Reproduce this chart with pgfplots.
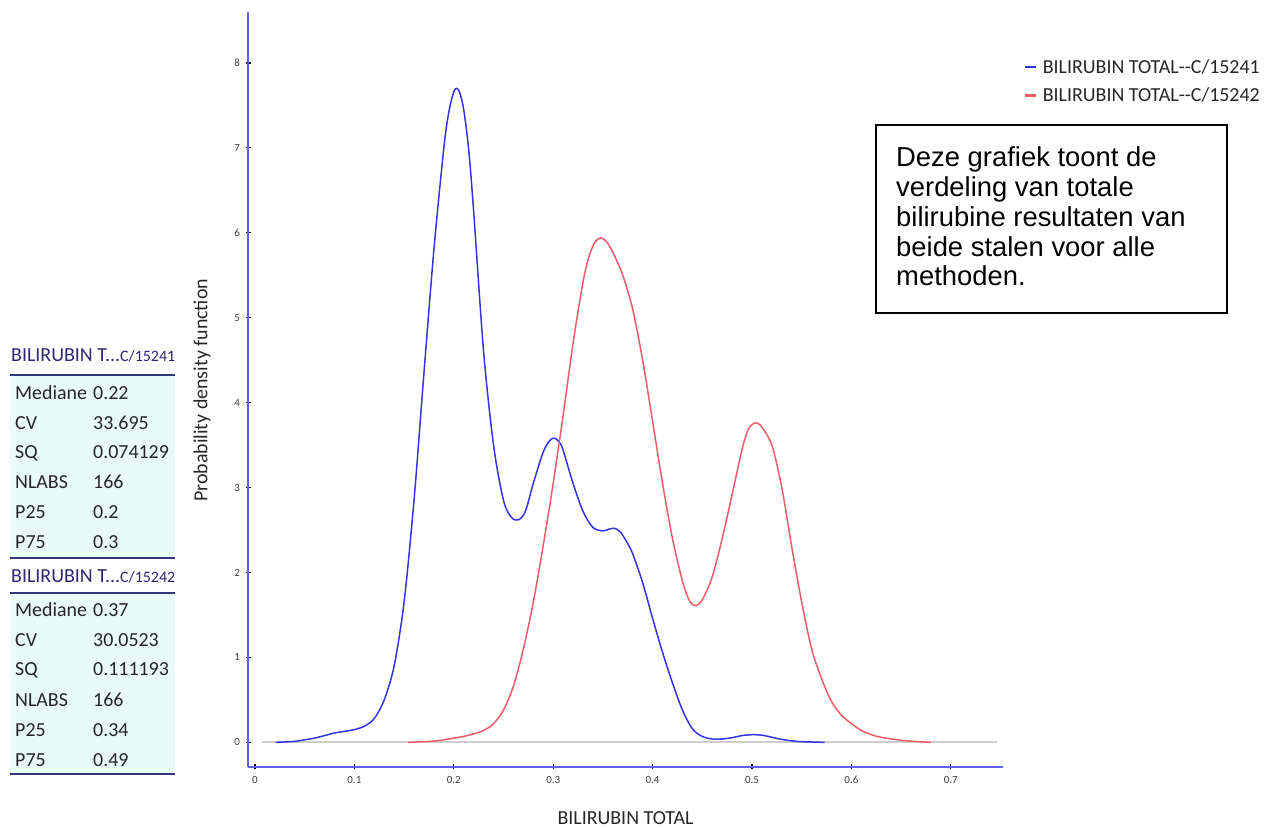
\documentclass[border=0pt]{standalone}
\usepackage{fontspec}
\setmainfont{Carlito}
\newfontfamily\arialfont{Liberation Sans}
\usepackage{pgfplots}
\pgfplotsset{compat=1.18}

\definecolor{curveBlue}{RGB}{52,52,228}
\definecolor{curveRed}{RGB}{238,92,104}
\definecolor{axisBlue}{RGB}{95,95,235}
\definecolor{baseGray}{RGB}{205,205,205}
\definecolor{tabFill}{RGB}{234,250,249}
\definecolor{tabHead}{RGB}{46,38,112}
\definecolor{tabRule}{RGB}{52,56,120}
\definecolor{tabText}{RGB}{38,38,38}
\definecolor{tickText}{RGB}{60,60,60}

% density estimate, sample C/15241
\pgfplotstableread{
x y
0.021 0
0.03 0.005
0.04 0.012
0.05 0.03
0.06 0.05
0.07 0.08
0.08 0.11
0.09 0.13
0.10 0.15
0.11 0.19
0.12 0.28
0.13 0.5
0.14 0.9
0.15 1.65
0.16 2.85
0.17 4.35
0.18 5.8
0.19 7.0
0.195 7.42
0.2 7.66
0.203 7.7
0.206 7.65
0.21 7.45
0.215 6.98
0.22 6.25
0.23 4.6
0.24 3.5
0.25 2.85
0.258 2.65
0.265 2.62
0.272 2.72
0.28 3.05
0.29 3.42
0.297 3.56
0.302 3.58
0.307 3.52
0.31 3.44
0.32 3.05
0.33 2.72
0.34 2.53
0.35 2.49
0.356 2.51
0.362 2.52
0.368 2.47
0.375 2.34
0.38 2.22
0.39 1.88
0.40 1.46
0.41 1.06
0.42 0.7
0.43 0.38
0.44 0.16
0.45 0.07
0.46 0.04
0.47 0.04
0.48 0.055
0.49 0.08
0.50 0.09
0.51 0.085
0.52 0.06
0.53 0.035
0.54 0.018
0.55 0.008
0.573 0
}\densA

% density estimate, sample C/15242
\pgfplotstableread{
x y
0.154 0
0.17 0.008
0.18 0.015
0.19 0.03
0.20 0.05
0.21 0.07
0.22 0.1
0.23 0.14
0.24 0.22
0.25 0.38
0.26 0.66
0.27 1.1
0.28 1.65
0.29 2.32
0.30 3.05
0.31 3.85
0.32 4.7
0.33 5.42
0.336 5.72
0.342 5.89
0.348 5.94
0.354 5.89
0.36 5.77
0.37 5.5
0.38 5.1
0.39 4.5
0.40 3.78
0.41 3.05
0.42 2.4
0.43 1.9
0.437 1.67
0.443 1.61
0.45 1.68
0.46 1.95
0.47 2.4
0.48 2.92
0.49 3.45
0.496 3.68
0.501 3.75
0.505 3.76
0.51 3.71
0.52 3.5
0.53 3.0
0.54 2.3
0.55 1.65
0.56 1.1
0.57 0.75
0.58 0.48
0.59 0.32
0.60 0.22
0.61 0.14
0.62 0.09
0.63 0.06
0.65 0.025
0.665 0.01
0.68 0
}\densB

\newcommand{\tabfont}{\fontsize{20}{24}\selectfont}

\begin{document}
\begin{tikzpicture}[x=1bp,y=1bp]
\useasboundingbox (0,0) rectangle (1271,828);

\begin{axis}[
  at={(248bp,61bp)}, anchor=south west,
  scale only axis, width=755bp, height=755bp,
  xmin=-0.007, xmax=0.7525, ymin=-0.29, ymax=8.6,
  axis x line*=bottom, axis y line*=left,
  axis line style={-, draw=axisBlue, line width=1.3bp},
  xtick={0,0.1,0.2,0.3,0.4,0.5,0.6,0.7},
  xticklabels={0,0.1,0.2,0.3,0.4,0.5,0.6,0.7},
  ytick={0,1,2,3,4,5,6,7,8},
  yticklabels={0,1,2,3,4,5,6,7,8},
  tick align=center, major tick length=5bp,
  tick style={black, line width=1.2bp},
  ticklabel style={font=\fontsize{11}{13}\selectfont, text=tickText},
  xticklabel style={yshift=-3bp},
  yticklabel style={xshift=-2bp},
  xlabel={BILIRUBIN TOTAL},
  ylabel={Probability density function},
  label style={font=\fontsize{20}{24}\selectfont, text=tabText},
  xlabel style={at={(axis description cs:0.5,-0.0675)}, anchor=center},
  ylabel style={at={(axis description cs:-0.061,0.499)}, anchor=center},
  legend style={draw=none, fill=none, at={(1.0225,0.943)}, anchor=north west,
    font=\fontsize{20}{24}\selectfont, text=tabText, row sep=9bp,
    nodes={inner sep=2bp}},
  legend cell align=left,
  legend image code/.code={\draw[#1, line width=2.6bp] (0bp,0bp) -- (11bp,0bp);},
]
\addplot[draw=baseGray, line width=1.8bp, forget plot] coordinates {(0.0075,0) (0.746,0)};
\addplot[curveBlue, line width=1.5bp, smooth, tension=0.5] table {\densA};
\addlegendentry{\hspace{4bp}BILIRUBIN TOTAL-{}-C/15241}
\addplot[curveRed, line width=1.5bp, smooth, tension=0.5] table {\densB};
\addlegendentry{\hspace{4bp}BILIRUBIN TOTAL-{}-C/15242}
\end{axis}

% explanatory text box
\draw[black, line width=1.3bp] (876,703) rectangle (1227,515);
\begin{scope}[every node/.style={anchor=base west, inner sep=0pt, font=\arialfont\fontsize{27.5}{30}\selectfont}]
\node at (896,661) {Deze grafiek toont de};
\node at (896,631.3) {verdeling van totale};
\node at (896,601.6) {bilirubine resultaten van};
\node at (896,571.9) {beide stalen voor alle};
\node at (896,542.2) {methoden.};
\end{scope}

% summary tables
\fill[tabFill] (10,270.5) rectangle (175,453);
\fill[tabFill] (10,54.5) rectangle (175,235);
\draw[tabRule, line width=1.3bp] (10,453) -- (175,453);
\draw[tabRule, line width=1.3bp] (10,270) -- (175,270);
\draw[tabRule, line width=1.3bp] (10,235) -- (175,235);
\draw[tabRule, line width=1.3bp] (10,54) -- (175,54);

\node[anchor=base west, inner sep=0pt, text=tabHead] at (11,466) {\tabfont BILIRUBIN T...\fontsize{16}{19}\selectfont C/15241};
\node[anchor=base west, inner sep=0pt, text=tabHead] at (11,245) {\tabfont BILIRUBIN T...\fontsize{16}{19}\selectfont C/15242};

\begin{scope}[every node/.style={anchor=base west, inner sep=0pt, text=tabText, font=\tabfont}]
\node at (15,428) {Mediane}; \node at (93,428) {0.22};
\node at (15,398) {CV};      \node at (93,398) {33.695};
\node at (15,369) {SQ};      \node at (93,369) {0.074129};
\node at (15,339) {NLABS};   \node at (93,339) {166};
\node at (15,309) {P25};     \node at (93,309) {0.2};
\node at (15,279) {P75};     \node at (93,279) {0.3};

\node at (15,211) {Mediane}; \node at (93,211) {0.37};
\node at (15,181) {CV};      \node at (93,181) {30.0523};
\node at (15,152) {SQ};      \node at (93,152) {0.111193};
\node at (15,121) {NLABS};   \node at (93,121) {166};
\node at (15,91)  {P25};     \node at (93,91)  {0.34};
\node at (15,61)  {P75};     \node at (93,61)  {0.49};
\end{scope}
\end{tikzpicture}
\end{document}
